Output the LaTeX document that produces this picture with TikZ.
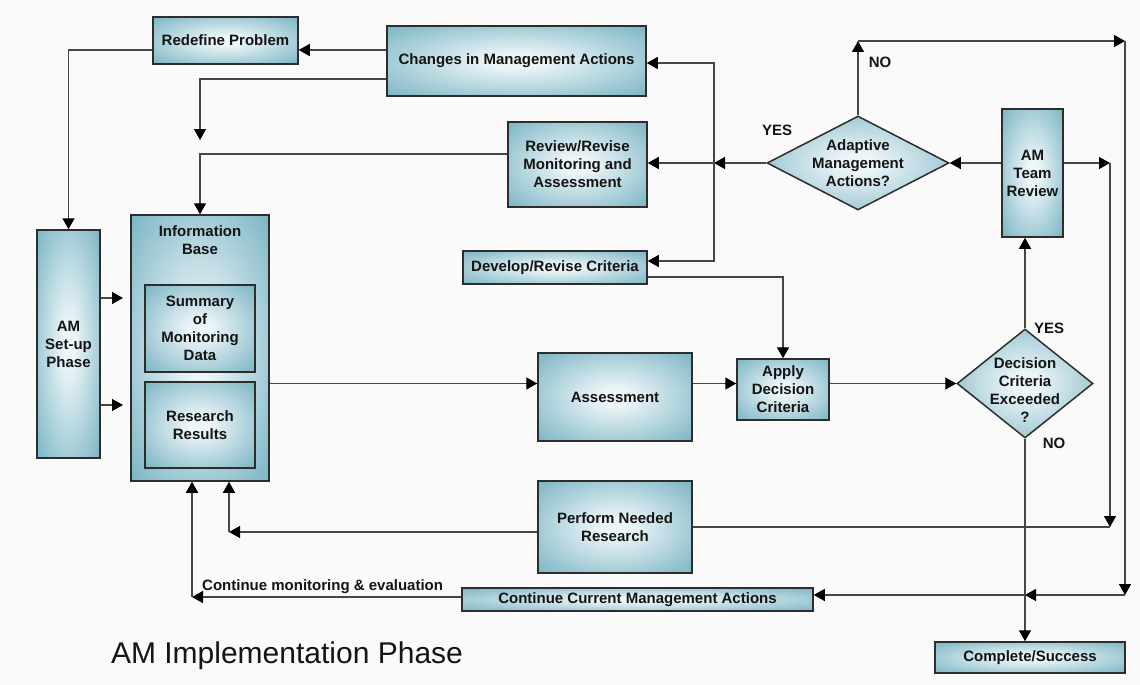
\documentclass[tikz,border=0pt]{standalone}
\usepackage{fontspec}
\setmainfont{Liberation Sans}
\usetikzlibrary{arrows.meta,shapes.geometric,calc}
\definecolor{bgcol}{RGB}{250,250,250}
\definecolor{cin}{RGB}{236,245,248}
\definecolor{cout}{RGB}{98,167,184}
\definecolor{bordercol}{RGB}{45,45,45}
\definecolor{linecol}{RGB}{70,70,70}
\definecolor{txtcol}{RGB}{20,20,20}
\pgfdeclareradialshading{boxshade}{\pgfpoint{0bp}{0bp}}{color(0bp)=(cin); color(5bp)=(cin); color(42bp)=(cout); color(100bp)=(cout)}
\tikzset{
  box/.style={draw=bordercol, line width=1.5pt, shade, shading=boxshade, inner sep=0pt, align=center,
    text=txtcol, font=\bfseries\fontsize{15}{18}\selectfont},
  dia/.style={box, diamond},
  txt/.style={inner sep=0pt, align=center, text=txtcol, font=\bfseries\fontsize{15}{18}\selectfont},
  conn/.style={draw=linecol, line width=1.4pt},
  arr/.style={-{Triangle[length=11pt,width=12pt,color=black]}},
}
\begin{document}
\begin{tikzpicture}[x=1pt,y=-1pt]
\path[use as bounding box, fill=bgcol] (0,0) rectangle (1140,685);

% boxes
\node[box, minimum width=145pt, minimum height=47pt] (redef) at (225.5,40.5) {Redefine Problem};
\node[box, minimum width=259pt, minimum height=70pt] (chg) at (516.5,61) {Changes in Management Actions};
\node[box, minimum width=139pt, minimum height=85pt] (rev) at (577.5,164.5) {Review/Revise\\Monitoring and\\Assessment};
\node[dia, minimum width=182pt, minimum height=94pt] (adapt) at (858,163) {};
\node[txt] (adaptt) at (adapt.center) {Adaptive\\Management\\Actions?};
\node[box, minimum width=61pt, minimum height=128pt] (team) at (1032.5,173) {AM\\Team\\Review};
\node[box, minimum width=184pt, minimum height=33pt] (dev) at (555,267.5) {Develop/Revise Criteria};
\node[box, minimum width=138pt, minimum height=266pt] (info) at (200,348) {};
\node[txt] (infot) at (200,240.5) {Information\\Base};
\node[box, minimum width=110pt, minimum height=87pt] (summ) at (200,328.5) {Summary\\of\\Monitoring\\Data};
\node[box, minimum width=110pt, minimum height=86pt] (res) at (200,425) {Research\\Results};
\node[box, minimum width=63pt, minimum height=228pt] (setup) at (68.5,344) {AM\\Set-up\\Phase};
\node[box, minimum width=154pt, minimum height=88pt] (assess) at (615,397) {Assessment};
\node[box, minimum width=92pt, minimum height=61pt] (apply) at (783,389.5) {Apply\\Decision\\Criteria};
\node[dia, minimum width=136pt, minimum height=109pt] (dec) at (1025,383.5) {};
\node[txt] (dect) at (1025,390) {Decision\\Criteria\\Exceeded\\?};
\node[box, minimum width=154pt, minimum height=92pt] (perf) at (615,527) {Perform Needed\\Research};
\node[box, minimum width=351pt, minimum height=23pt] (cont) at (637.5,599.5) {Continue Current Management Actions};
\node[box, minimum width=190pt, minimum height=31pt] (comp) at (1030,657.5) {Complete/Success};

% labels
\node[txt] (yes1) at (777,130) {YES};
\node[txt] (no1) at (880,62) {NO};
\node[txt] (yes2) at (1049,328) {YES};
\node[txt] (no2) at (1054,443) {NO};
\node[txt, anchor=west] (cmon) at (202,587) {Continue monitoring \& evaluation};
\node[inner sep=0pt, text=txtcol, font=\fontsize{30}{34}\selectfont] (title) at (287,656) {AM Implementation Phase};

% connectors: top left
\coordinate (p1) at ([yshift=11pt]chg.west);
\draw[conn,arr] (p1) -- (p1 -| redef.east);
\coordinate (p2) at ([yshift=-18pt]chg.west);
\coordinate (p2e) at (200,140);
\draw[conn,arr] (p2) -| (p2e);
\coordinate (p3) at ([yshift=10.5pt]rev.west);
\draw[conn,arr] (p3) -| (info.north);
\coordinate (p4) at ([yshift=-9.5pt]redef.west);
\draw[conn,arr] (p4) -| (setup.north);

% YES branch of adaptive
\coordinate (j1) at (714,163);
\draw[conn,arr] (adapt.west) -- (j1);
\draw[conn,arr] (j1) -- (rev.east |- j1);
\coordinate (jc) at ([yshift=-2pt]chg.east);
\draw[conn,arr] (j1) |- (jc);
\coordinate (jd) at ([yshift=6.5pt]dev.east);
\draw[conn,arr] (j1) |- (jd);

% NO branch of adaptive
\coordinate (n1) at (858,41);
\coordinate (n2) at (1125,41);
\coordinate (n3) at (1125,595);
\coordinate (n4) at (1025,595);
\draw[conn,arr] (adapt.north) -- (n1);
\draw[conn,arr] (n1) -- (n2);
\draw[conn,arr] (n2) -- (n3);
\draw[conn,arr] (n3) -- (n4);
\draw[conn,arr] (n4) -- (cont.east |- n4);

% team review
\draw[conn,arr] (team.west |- adapt.east) -- (adapt.east);
\coordinate (t1) at (1110,163);
\coordinate (t2) at (1110,527);
\draw[conn,arr] (team.east |- t1) -- (t1);
\draw[conn,arr] (t1) -- (t2);
\draw[conn] (t2) -- (perf.east |- t2);

% perform research / continue back to info base
\coordinate (q1) at (229,532);
\draw[conn,arr] ([yshift=-5pt]perf.west) -- (q1);
\draw[conn,arr] (q1) -- (q1 |- info.south);
\coordinate (r1) at (192,597);
\draw[conn,arr] ([yshift=2.5pt]cont.west) -- (r1);
\draw[conn,arr] (r1) -- (r1 |- info.south);

% main flow
\draw[conn,arr] (info.east |- dec.west) -- (assess.west |- dec.west);
\draw[conn,arr] (assess.east |- dec.west) -- (apply.west |- dec.west);
\draw[conn,arr] (apply.east |- dec.west) -- (dec.west);
\coordinate (d1) at ([yshift=-9.5pt]dev.east);
\draw[conn,arr] (d1) -| (apply.north);
\draw[conn,arr] (dec.north) -- (dec.north |- team.south);
\draw[conn,arr] (dec.south) -- (dec.south |- comp.north);

% set-up arrows
\coordinate (s1) at (123,298);
\coordinate (s2) at (123,405);
\draw[conn,arr] (setup.east |- s1) -- (s1);
\draw[conn,arr] (setup.east |- s2) -- (s2);
\end{tikzpicture}
\end{document}
